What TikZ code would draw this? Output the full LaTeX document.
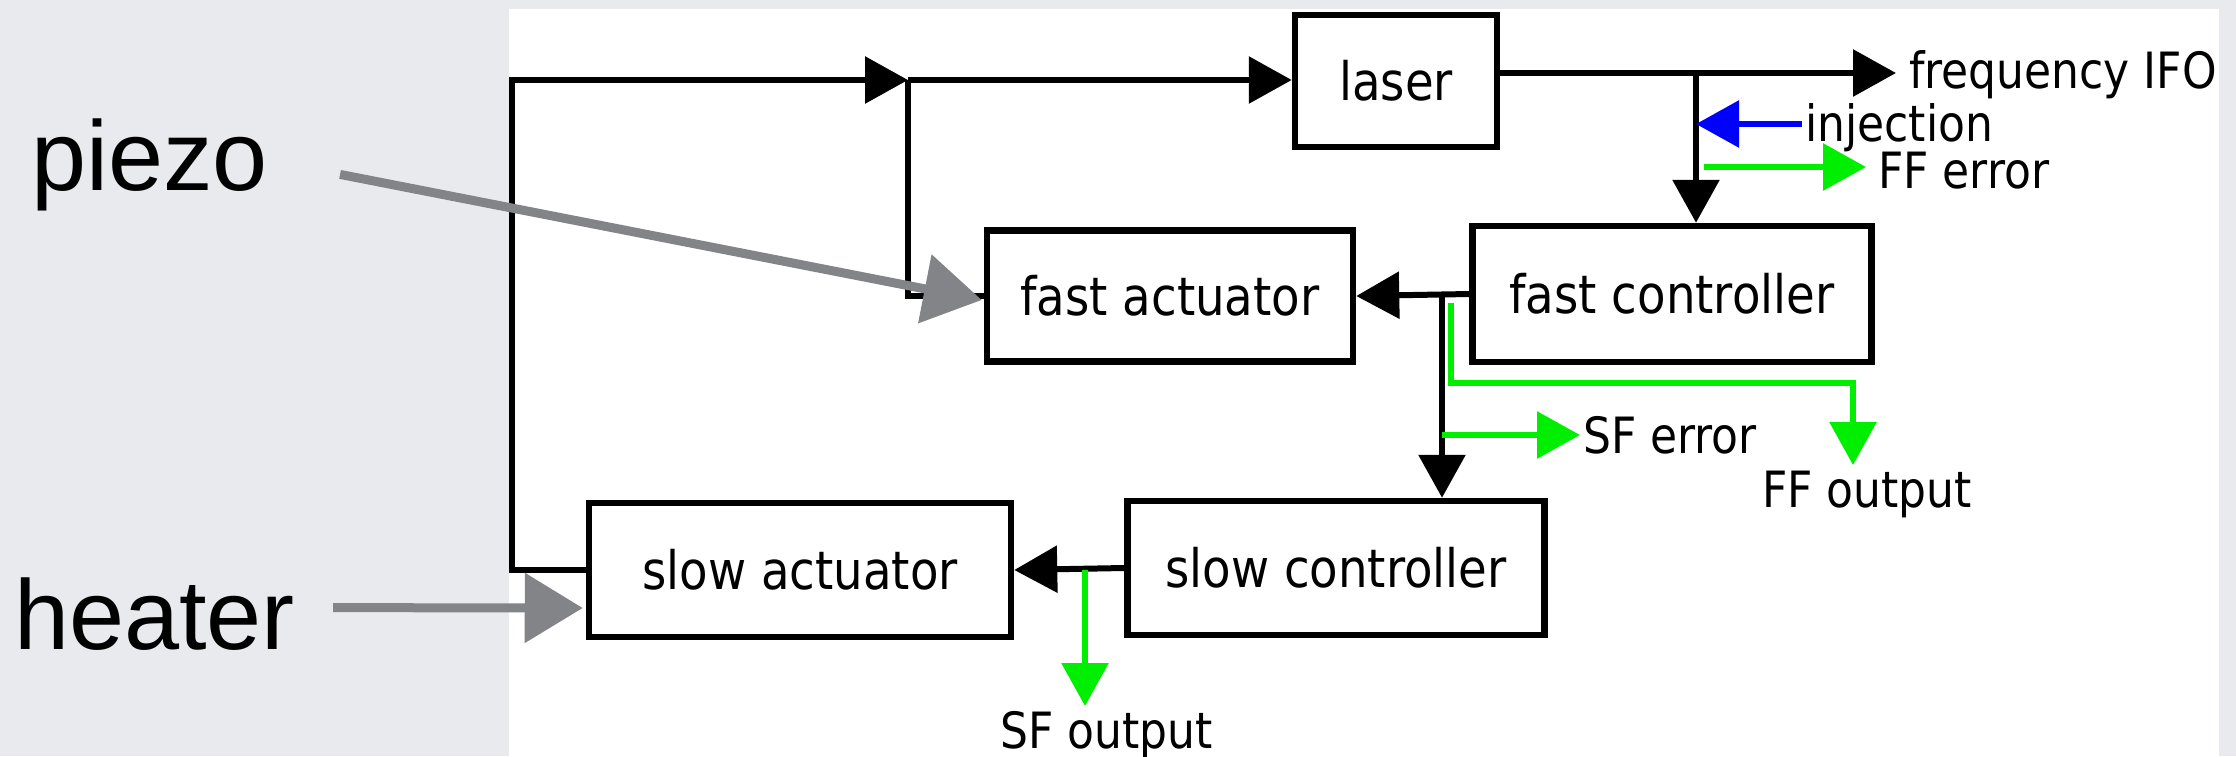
\documentclass[tikz,border=0pt]{standalone}
\usepackage{fontspec}
\setmainfont{Liberation Sans}
\newfontfamily\boxfont[FakeStretch=0.88]{DejaVu Sans}
\usetikzlibrary{arrows.meta,calc}
\definecolor{bggray}{RGB}{232,234,238}
\definecolor{sketch}{RGB}{130,132,136}
\definecolor{vgreen}{RGB}{0,238,0}
\definecolor{vblue}{RGB}{0,0,255}
\begin{document}
\begin{tikzpicture}[x=1pt,y=-1pt,
  box/.style={draw,line width=6.5pt,fill=white,inner sep=0pt,font=\boxfont\fontsize{53}{58}\selectfont},
  lbl/.style={inner sep=0pt,anchor=base west,font=\boxfont\fontsize{50}{56}\selectfont},
  big/.style={inner sep=0pt,anchor=base west,font=\fontsize{99}{110}\selectfont},
  wire/.style={line width=6pt},
  sig/.style={line width=6pt,-{Triangle[length=43pt,width=46pt]}},
  gsig/.style={sig,vgreen},
  bsig/.style={sig,vblue},
  note/.style={line width=9pt,sketch,-{Triangle[length=58pt,width=68pt]}}
]
\useasboundingbox (0,0) rectangle (2236,756);
\fill[bggray] (0,0) rectangle (2236,756);
\fill[white] (509,9) rectangle (2219,756);

% boxes
\node[box,minimum width=202pt,minimum height=132pt] (laser) at (1396,81) {laser};
\node[box,minimum width=366pt,minimum height=131pt] (fastact) at (1170,296) {fast actuator};
\node[box,minimum width=399pt,minimum height=136pt] (fastctl) at (1672,294) {fast controller};
\node[box,minimum width=422pt,minimum height=134pt] (slowact) at (800,570) {slow actuator};
\node[box,minimum width=417pt,minimum height=134pt] (slowctl) at (1336,568) {slow controller};

% labels
\node[lbl] (freq) at (1909,88) {frequency IFO};
\node[lbl] (inj) at (1805,141) {injection};
\node[lbl] (fferr) at (1878,188) {FF error};
\node[lbl] (sferr) at (1583,453) {SF error};
\node[lbl] (ffout) at (1762,507) {FF output};
\node[lbl] (sfout) at (1000,748) {SF output};
\node[big] (piezo) at (31,190) {piezo};
\node[big] (heater) at (14,649) {heater};

% junctions and free ends
\coordinate (tl) at (512,80);
\coordinate (j1) at (908,80);
\coordinate (j2) at (1696,73);
\coordinate (fi) at (1896,73);
\coordinate (j3) at (1442,294);
\coordinate (b0) at (1802,124);
\coordinate (e0) at (1704,167);
\coordinate (e1) at (1866,167);
\coordinate (s1) at (1580,435);
\coordinate (g1) at (1451,303);
\coordinate (g2) at (1451,383);
\coordinate (ffo) at (1853,465);
\coordinate (g3) at (1085,570);
\coordinate (sfo) at (1085,706);

% black signal paths
\draw[sig] (slowact.west) -| (tl) -- (j1);
\draw[sig] (j1) -- (j1 -| laser.west);
\draw[wire] (j1) |- (fastact.west);
\draw[sig] (laser.east |- fi) -- (fi);
\draw[sig] (j2) -- (j2 |- fastctl.north);
\draw[sig] (fastctl.west) -- (fastact.east);
\draw[sig] (j3) -- (j3 |- slowctl.north);
\draw[sig] (slowctl.west) -- (slowact.east);

% coloured signals
\draw[bsig] (b0) -- (b0 -| j2);
\draw[gsig] (e0) -- (e1);
\draw[gsig] (j3 |- s1) -- (s1);
\draw[gsig] (g1) -- (g2) -| (ffo);
\draw[gsig] (g3) -- (sfo);

% hand-drawn pointers
\draw[note] ([xshift=72pt,yshift=-10pt]piezo.east) -- ([xshift=-2pt,yshift=-4pt]fastact.west);
\draw[note] ([xshift=38pt,yshift=6pt]heater.east) -- ([xshift=-3pt,yshift=-38pt]slowact.west);
\end{tikzpicture}
\end{document}
